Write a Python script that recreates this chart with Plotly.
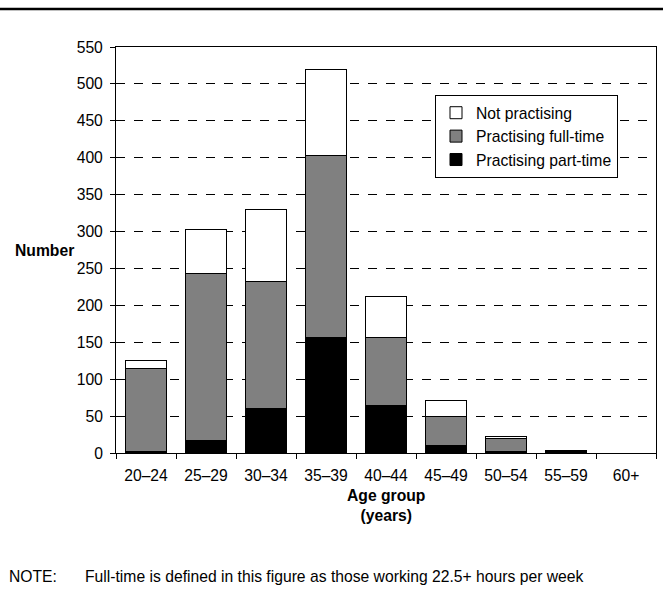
import plotly.graph_objects as go

categories = ["20–24", "25–29", "30–34", "35–39", "40–44", "45–49", "50–54", "55–59", "60+"]
part_time = [2, 17, 60, 157, 64, 10, 2, 3, 0]
full_time = [113, 226, 172, 246, 93, 40, 17, 1, 0]
not_practising = [10, 60, 98, 116, 55, 21, 3, 0, 0]
y_ticks = list(range(0, 551, 50))

FONT = "Liberation Sans, Arial, sans-serif"
FS = 15.7
line = dict(color="black", width=1)

fig = go.Figure()
fig.add_trace(go.Bar(x=categories, y=part_time, name="Practising part-time",
                     marker=dict(color="black", line=line)))
fig.add_trace(go.Bar(x=categories, y=full_time, name="Practising full-time",
                     marker=dict(color="#808080", line=line)))
fig.add_trace(go.Bar(x=categories, y=not_practising, name="Not practising",
                     marker=dict(color="white", line=line)))

L, R, T, B = 116, 7, 47, 157
W, H = 663, 610
pw, ph = W - L - R, H - T - B

def px(x):
    return (x - L) / pw

def py(y):
    return 1 - (y - T) / ph

fig.update_layout(
    width=W, height=H,
    margin=dict(l=L, r=R, t=T, b=B, autoexpand=False),
    barmode="stack", bargap=0.33,
    plot_bgcolor="white", paper_bgcolor="white",
    font=dict(family=FONT, size=FS, color="black"),
    showlegend=True,
    legend=dict(traceorder="reversed", x=px(435), y=py(95),
                xanchor="left", yanchor="top", bgcolor="white",
                bordercolor="black", borderwidth=1,
                font=dict(size=FS), itemwidth=30),
    xaxis=dict(showline=True, linecolor="black", linewidth=1, mirror=True,
               ticks="outside", tickson="boundaries", ticklen=5, tickcolor="black",
               showgrid=False, tickfont=dict(size=FS), ticklabelstandoff=8),
    yaxis=dict(range=[0, 550], tickvals=y_ticks, showline=True, linecolor="black",
               linewidth=1, mirror=True, ticks="outside", ticklen=5, tickcolor="black",
               showgrid=True, gridcolor="black", gridwidth=1, griddash="dash",
               zeroline=False, tickfont=dict(size=FS), ticklabelstandoff=4),
    annotations=[
        dict(text="<b>Number</b>", xref="paper", yref="paper",
             x=px(13), y=py(250), xanchor="left", yanchor="middle",
             showarrow=False, font=dict(size=FS)),
        dict(text="<b>Age group<br>(years)</b>", xref="paper", yref="paper",
             x=px(386), y=py(485), xanchor="center", yanchor="top",
             showarrow=False, font=dict(size=FS)),
        dict(text="NOTE:", xref="paper", yref="paper",
             x=px(7), y=py(576), xanchor="left", yanchor="middle",
             showarrow=False, font=dict(size=FS)),
        dict(text="Full-time is defined in this figure as those working 22.5+ hours per week",
             xref="paper", yref="paper",
             x=px(83), y=py(576), xanchor="left", yanchor="middle",
             showarrow=False, font=dict(size=FS)),
    ],
    shapes=[
        dict(type="line", xref="paper", yref="paper",
             x0=px(0), x1=px(W), y0=py(9), y1=py(9),
             line=dict(color="black", width=2.5)),
    ],
)

fig.write_html("out.html", config={"displayModeBar": False},
               post_script="document.body.style.margin='0';document.body.style.overflow='hidden';")
